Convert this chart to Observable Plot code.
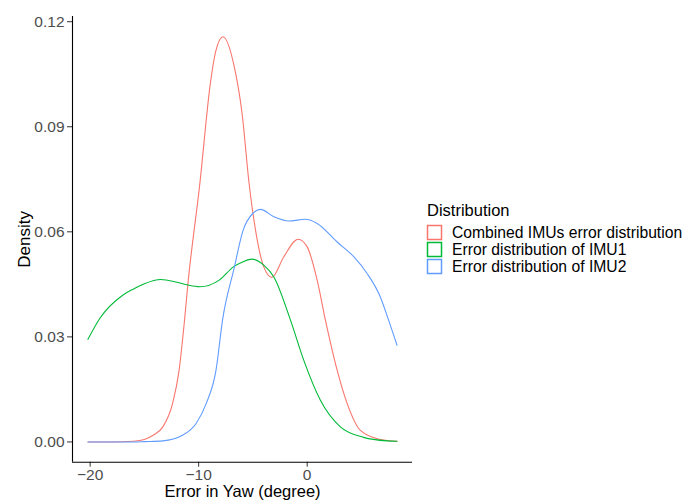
<!DOCTYPE html>
<html>
<head>
<meta charset="utf-8">
<script src="https://cdn.jsdelivr.net/npm/d3@7"></script>
<script src="https://cdn.jsdelivr.net/npm/@observablehq/plot@0.6"></script>
<style>
  body { margin: 0; background: #fff; font-family: "Liberation Sans", Arial, sans-serif; }
  #wrap { position: relative; width: 693px; height: 502px; }
  #legend { position: absolute; left: 426px; top: 200px; color: #000; }
  #legend .title { font-size: 16.5px; line-height: 20px; margin-bottom: 4px; margin-left: 1px; }
  #legend .row { display: flex; align-items: center; height: 17px; font-size: 15.7px; line-height: 17px; white-space: nowrap; }
  #legend .row svg { flex: none; margin-right: 9px; }
  #chart svg g[aria-label$="tick label"], #chart svg g[aria-label$="tick label"] text { font-size: 15.5px !important; }
</style>
</head>
<body>
<div id="wrap"><div id="chart"></div><div id="legend"></div></div>
<script>
const seriesNames = ["Combined IMUs error distribution", "Error distribution of IMU1", "Error distribution of IMU2"];
const seriesColors = ["#F8766D", "#00BA38", "#619CFF"];
const xTicks = [-20, -10, 0];
const yTicks = [0, 0.03, 0.06, 0.09, 0.12];

const combinedX = [-20.2, -18, -16, -15, -14.2, -13.3, -12.4, -11.8, -11.3, -11.0, -9.9, -8.9, -8.44, -7.76, -6.75, -5.98, -5.37, -4.76, -4.0, -3.25, -2.15, -0.83, 0, 0.92, 1.68, 2.76, 3.68, 4.9, 6.74, 8.28];
const combinedY = [0, 0, 0.0002, 0.0007, 0.0019, 0.0043, 0.011, 0.0205, 0.0348, 0.0448, 0.0735, 0.1029, 0.1114, 0.1157, 0.1076, 0.0933, 0.0743, 0.0605, 0.050, 0.047, 0.0529, 0.0579, 0.0557, 0.0462, 0.0348, 0.0205, 0.011, 0.0033, 0.0007, 0.0002];

const imu1X = [-20.2, -19.1, -17.0, -16.0, -15.0, -13.5, -12.0, -11.0, -9.9, -8.1, -6.8, -5.95, -5.1, -4.0, -3.07, -1.54, -0.31, 1.22, 3.06, 5.2, 7.36, 8.28];
const imu1Y = [0.0293, 0.0353, 0.0419, 0.0437, 0.0452, 0.0464, 0.0456, 0.0448, 0.0443, 0.0462, 0.050, 0.0514, 0.0522, 0.0505, 0.0471, 0.0348, 0.0233, 0.0119, 0.0043, 0.0013, 0.0003, 0.0002];

const imu2X = [-20.2, -16, -15, -13.3, -11.5, -10.25, -9.3, -8.4, -7.8, -6.7, -5.95, -5.0, -4.3, -3.07, -1.69, -0.16, 0.92, 2.76, 4.29, 5.52, 6.74, 7.5, 8.28];
const imu2Y = [0, 0, 0.0001, 0.0003, 0.0019, 0.0052, 0.011, 0.0205, 0.0348, 0.050, 0.060, 0.0653, 0.0664, 0.0643, 0.0631, 0.0636, 0.0624, 0.0571, 0.0529, 0.0481, 0.0414, 0.0348, 0.0276];

const rows = [];
[[combinedX, combinedY], [imu1X, imu1Y], [imu2X, imu2Y]].forEach(([xs, ys], i) => {
  xs.forEach((x, j) => rows.push({series: seriesNames[i], x, y: ys[j]}));
});

const xmin = d3.min(rows, d => d.x), xmax = d3.max(rows, d => d.x);
const ymin = 0, ymax = d3.max(rows, d => d.y);
const xDomain = [xmin - 0.05 * (xmax - xmin), xmax + 0.05 * (xmax - xmin)];
const yDomain = [ymin - 0.05 * (ymax - ymin), ymax + 0.05 * (ymax - ymin)];

const font = "'Liberation Sans', Arial, sans-serif";
const chart = Plot.plot({
  width: 415,
  height: 502,
  marginLeft: 72,
  marginTop: 16,
  marginBottom: 40.3,
  marginRight: 3,
  style: {fontFamily: font, fontSize: "15.5px", background: "white", overflow: "visible"},
  x: {domain: xDomain},
  y: {domain: yDomain},
  color: {domain: seriesNames, range: seriesColors},
  marks: [
    Plot.axisX({ticks: xTicks, tickSize: 5, tickPadding: 2, fontSize: 15.5, stroke: "#333", fill: "#4D4D4D", label: null, tickFormat: d3.format("d")}),
    Plot.axisY({ticks: yTicks, tickSize: 5, tickPadding: 3, fontSize: 15.5, stroke: "#333", fill: "#4D4D4D", label: null, tickFormat: d3.format(".2f")}),
    Plot.ruleY([yDomain[0]], {stroke: "#000", strokeWidth: 1.1}),
    Plot.ruleX([xDomain[0]], {stroke: "#000", strokeWidth: 1.1}),
    Plot.line(rows, {x: "x", y: "y", z: "series", stroke: "series", strokeWidth: 1.1, curve: "monotone-x"}),
    Plot.text(["Error in Yaw (degree)"], {frameAnchor: "bottom", textAnchor: "middle", dy: 29.5, lineAnchor: "middle", fontSize: 16.5, fill: "#000"}),
    Plot.text(["Density"], {frameAnchor: "left", textAnchor: "middle", dx: -48, rotate: -90, lineAnchor: "middle", fontSize: 17, fill: "#000"})
  ]
});
document.getElementById("chart").appendChild(chart);

const legend = d3.select("#legend");
legend.append("div").attr("class", "title").text("Distribution");
seriesNames.forEach((name, i) => {
  const r = legend.append("div").attr("class", "row");
  const k = r.append("svg").attr("width", 17).attr("height", 17);
  k.append("rect").attr("x", 1.5).attr("y", 1.5).attr("width", 14).attr("height", 14)
    .attr("fill", "#fff").attr("stroke", seriesColors[i]).attr("stroke-width", 1.5);
  r.append("span").text(name);
});
</script>
</body>
</html>
